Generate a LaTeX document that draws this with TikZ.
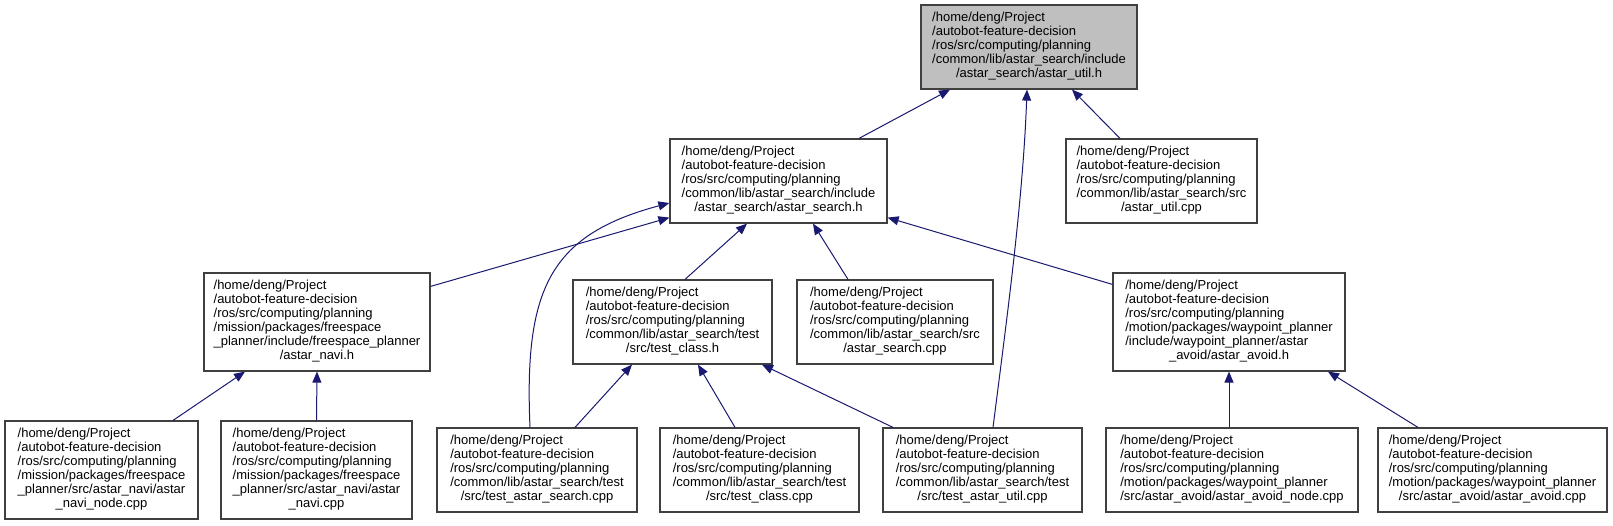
\documentclass[tikz,border=0pt]{standalone}
\usepackage{fontspec}
\setmainfont{Liberation Sans}
\usetikzlibrary{arrows.meta}
\definecolor{edgeblue}{HTML}{191970}
\definecolor{rootgray}{HTML}{BFBFBF}
\definecolor{framegray}{HTML}{404040}
% lines left aligned, last line centred (as doxygen does)
\newcommand{\flabel}[2]{\begin{tabular}{@{}l@{}}#1\\\multicolumn{1}{@{}c@{}}{#2}\end{tabular}}

\begin{document}
\begin{tikzpicture}[x=1pt, y=-1pt,
    file/.style={draw=framegray, line width=1.2pt, fill=white, inner sep=0pt,
      minimum height=84pt, font=\fontsize{13}{14}\selectfont},
    tall/.style={minimum height=98pt},
    inc/.style={draw=edgeblue, line width=1pt, -{Triangle[length=11pt,width=9pt]}}]
  \useasboundingbox (0,0) rectangle (1613,525);
  % top rank
  \node[file, fill=rootgray, minimum width=216pt] (utilh) at (1029,47)
    {\flabel{/home/deng/Project\\/autobot-feature-decision\\/ros/src/computing/planning\\/common/lib/astar\_search/include}{/astar\_search/astar\_util.h}};
  % second rank
  \node[file, minimum width=217pt] (searchh) at (778.5,181)
    {\flabel{/home/deng/Project\\/autobot-feature-decision\\/ros/src/computing/planning\\/common/lib/astar\_search/include}{/astar\_search/astar\_search.h}};
  \node[file, minimum width=191pt] (utilcpp) at (1161.5,181)
    {\flabel{/home/deng/Project\\/autobot-feature-decision\\/ros/src/computing/planning\\/common/lib/astar\_search/src}{/astar\_util.cpp}};
  % third rank
  \node[file, tall, minimum width=226pt] (navih) at (317,322)
    {\flabel{/home/deng/Project\\/autobot-feature-decision\\/ros/src/computing/planning\\/mission/packages/freespace\\\_planner/include/freespace\_planner}{/astar\_navi.h}};
  \node[file, minimum width=199pt] (classh) at (672.5,322)
    {\flabel{/home/deng/Project\\/autobot-feature-decision\\/ros/src/computing/planning\\/common/lib/astar\_search/test}{/src/test\_class.h}};
  \node[file, minimum width=196pt] (searchcpp) at (895,322)
    {\flabel{/home/deng/Project\\/autobot-feature-decision\\/ros/src/computing/planning\\/common/lib/astar\_search/src}{/astar\_search.cpp}};
  \node[file, tall, minimum width=232pt] (avoidh) at (1229,322)
    {\flabel{/home/deng/Project\\/autobot-feature-decision\\/ros/src/computing/planning\\/motion/packages/waypoint\_planner\\/include/waypoint\_planner/astar}{\_avoid/astar\_avoid.h}};
  % bottom rank
  \node[file, tall, minimum width=193pt] (navinode) at (101.5,470)
    {\flabel{/home/deng/Project\\/autobot-feature-decision\\/ros/src/computing/planning\\/mission/packages/freespace\\\_planner/src/astar\_navi/astar}{\_navi\_node.cpp}};
  \node[file, tall, minimum width=191pt] (navicpp) at (316.5,470)
    {\flabel{/home/deng/Project\\/autobot-feature-decision\\/ros/src/computing/planning\\/mission/packages/freespace\\\_planner/src/astar\_navi/astar}{\_navi.cpp}};
  \node[file, minimum width=200pt] (testsearch) at (537,470)
    {\flabel{/home/deng/Project\\/autobot-feature-decision\\/ros/src/computing/planning\\/common/lib/astar\_search/test}{/src/test\_astar\_search.cpp}};
  \node[file, minimum width=199pt] (testclass) at (759.5,470)
    {\flabel{/home/deng/Project\\/autobot-feature-decision\\/ros/src/computing/planning\\/common/lib/astar\_search/test}{/src/test\_class.cpp}};
  \node[file, minimum width=199pt] (testutil) at (982.5,470)
    {\flabel{/home/deng/Project\\/autobot-feature-decision\\/ros/src/computing/planning\\/common/lib/astar\_search/test}{/src/test\_astar\_util.cpp}};
  \node[file, minimum width=252pt] (avoidnode) at (1232,470)
    {\flabel{/home/deng/Project\\/autobot-feature-decision\\/ros/src/computing/planning\\/motion/packages/waypoint\_planner}{/src/astar\_avoid/astar\_avoid\_node.cpp}};
  \node[file, minimum width=229pt] (avoidcpp) at (1492.5,470)
    {\flabel{/home/deng/Project\\/autobot-feature-decision\\/ros/src/computing/planning\\/motion/packages/waypoint\_planner}{/src/astar\_avoid/astar\_avoid.cpp}};

  % include edges (arrow at the included file)
  \draw[inc] ([xshift=80.5pt]searchh.north) -- ([xshift=-79pt]utilh.south);
  \draw[inc] ([xshift=-41.5pt]utilcpp.north) -- ([xshift=43pt]utilh.south);
  \draw[inc] ([xshift=10.5pt]testutil.north) .. controls +(14,-110) and +(-4,110) .. ([xshift=-2pt]utilh.south);
  \draw[inc] ([yshift=-14pt]navih.north east) -- ([yshift=6pt]searchh.south west);
  \draw[inc] ([xshift=-7pt]testsearch.north) .. controls +(-6,-138) and +(-120,32) .. ([yshift=-22pt]searchh.west);
  \draw[inc] ([xshift=12.5pt]classh.north) -- ([xshift=-31.5pt]searchh.south);
  \draw[inc] ([xshift=-47pt]searchcpp.north) -- ([xshift=34.5pt]searchh.south);
  \draw[inc] ([yshift=-12pt]avoidh.north west) -- ([yshift=6pt]searchh.south east);
  \draw[inc] ([xshift=71.5pt]navinode.north) -- ([xshift=-72pt]navih.south);
  \draw[inc] (navicpp.north) -- (navih.south);
  \draw[inc] ([xshift=38pt]testsearch.north) -- ([xshift=-40.5pt]classh.south);
  \draw[inc] ([xshift=-24.5pt]testclass.north) -- ([xshift=25.5pt]classh.south);
  \draw[inc] ([xshift=-89.5pt]testutil.north) -- ([xshift=89.5pt]classh.south);
  \draw[inc] ([xshift=-3pt]avoidnode.north) -- (avoidh.south);
  \draw[inc] ([xshift=-74.5pt]avoidcpp.north) -- ([xshift=99pt]avoidh.south);
\end{tikzpicture}
\end{document}
